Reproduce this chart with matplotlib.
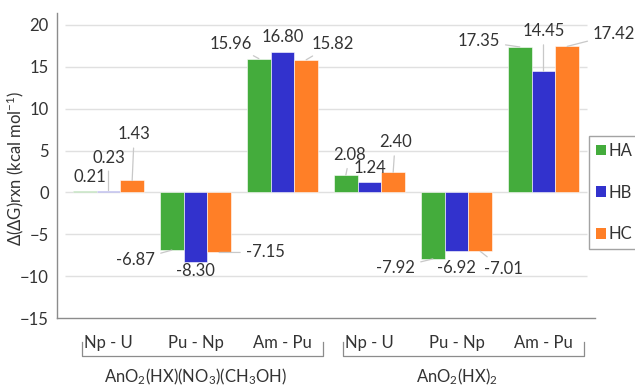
import matplotlib
matplotlib.use("Agg")
import matplotlib.pyplot as plt
import matplotlib.transforms as mtransforms
from matplotlib.patches import Patch
import numpy as np

plt.rcParams['font.family'] = ['Lato', 'DejaVu Sans']
plt.rcParams['mathtext.fontset'] = 'custom'
plt.rcParams['mathtext.rm'] = 'Lato'
plt.rcParams['mathtext.it'] = 'Lato:italic'
plt.rcParams['mathtext.default'] = 'regular'

# data
categories = ['Np - U', 'Pu - Np', 'Am - Pu', 'Np - U', 'Pu - Np', 'Am - Pu']
groups = ['AnO$_2$(HX)(NO$_3$)(CH$_3$OH)', 'AnO$_2$(HX)$_2$']
series = ['HA', 'HB', 'HC']
ha_vals = [0.21, -6.87, 15.96, 2.08, -7.92, 17.35]
hb_vals = [0.23, -8.30, 16.80, 1.24, -6.92, 14.45]
hc_vals = [1.43, -7.15, 15.82, 2.40, -7.01, 17.42]

colors = ['#44AC3C', '#3232CD', '#FF7F27']
text_color = '#333333'
fs = 12

# label offsets in pixels (dx, dy up) from bar end, and whether a leader line is drawn
label_offsets = [
    [(5, 14, False), (-36, -10, True), (-28, 15, True), (4, 20, True), (-37, -9, True), (-41, 6, True)],
    [(0, 33, True), (0, -9, False), (0, 15, False), (0, 14, False), (0, -17, False), (0, 40, True)],
    [(2, 46, True), (46, 0, True), (27, 16, True), (2, 30, True), (23, -18, True), (47, 12, True)],
]

fig = plt.figure(figsize=(6.35, 3.88), dpi=100)
W, H = 635, 388
ax = fig.add_axes([57 / W, 1 - 318.3 / H, (595 - 57) / W, (318.3 - 13) / H])

x = np.arange(len(categories))
width = 0.272
all_vals = [ha_vals, hb_vals, hc_vals]

ax.hlines(np.arange(-10, 25, 5), -0.5, 5.5, color='#e0e0e0', linewidth=1, zorder=0)

for i, vals in enumerate(all_vals):
    xs = x + (i - 1) * width
    ax.bar(xs, vals, width, color=colors[i], edgecolor='#ffffff', linewidth=0.4,
           label=series[i], zorder=2)
    for j, v in enumerate(vals):
        dx, dy, leader = label_offsets[i][j]
        props = None
        if leader:
            props = dict(arrowstyle='-', color='#c8c8c8', lw=0.9, shrinkA=2, shrinkB=0)
        ax.annotate(f'{v:.2f}', xy=(xs[j], v), xytext=(dx, dy),
                    textcoords='offset pixels', ha='center', va='center',
                    fontsize=fs, color=text_color, arrowprops=props, zorder=3)

ax.set_xlim(-0.592, 5.592)
ax.set_ylim(-15, 21.4)
ax.set_yticks(np.arange(-15, 25, 5))
ax.set_xticks(x)
ax.set_xticklabels(categories, fontsize=fs, color=text_color)
ax.tick_params(axis='x', length=0, pad=12)
ax.tick_params(axis='y', length=0, pad=6, labelsize=fs, labelcolor=text_color)

for side in ['top', 'right']:
    ax.spines[side].set_visible(False)
for side in ['left', 'bottom']:
    ax.spines[side].set_color('#8c8c8c')
    ax.spines[side].set_linewidth(1)

ax.set_ylabel('Δ(ΔG)rxn (kcal mol$^{-1}$)', fontsize=fs, color=text_color)
ax.yaxis.set_label_coords(-0.057, 0.49)

# group brackets and group labels
trans = mtransforms.blended_transform_factory(ax.transData, fig.transFigure)
y_top = 1 - 342 / H
y_bot = 1 - 356 / H
for g, name in enumerate(groups):
    start = g * 3
    left = start - 0.3
    right = start + 2.47
    ax.plot([left, left, right, right], [y_top, y_bot, y_bot, y_top], transform=trans,
            color='#8c8c8c', lw=0.9, clip_on=False)
    ax.text(start + 1, 1 - 377 / H, name, transform=trans, ha='center', va='center',
            fontsize=fs, color=text_color, clip_on=False)

handles = [Patch(facecolor=c, edgecolor='none') for c in colors]
leg = fig.legend(handles, series, loc='upper left', bbox_to_anchor=(589 / W, 1 - 136 / H),
                 frameon=True, fancybox=False, handlelength=0.6, handleheight=0.6,
                 handletextpad=0.2, labelspacing=1.55, borderpad=0.4, borderaxespad=0,
                 fontsize=fs)
leg.get_frame().set_edgecolor('#8c8c8c')
leg.get_frame().set_linewidth(1)
for t in leg.get_texts():
    t.set_color(text_color)

fig.savefig('out.png', dpi=100)
